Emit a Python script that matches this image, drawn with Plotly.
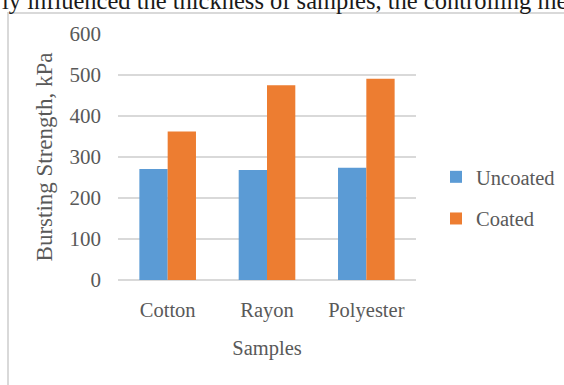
import plotly.graph_objects as go

# Bursting strength of knitted samples, before and after coating
samples = ["Cotton", "Rayon", "Polyester"]
uncoated = [271, 268, 274]
coated = [362, 475, 491]
y_ticks = [0, 100, 200, 300, 400, 500, 600]

W, H = 564, 385
L, R, T, B = 118, 148, 34, 105
plot_w = W - L - R
plot_h = H - T - B


def px_x(p):
    return (p - L) / plot_w


def px_y(p):
    return (H - B - p) / plot_h


SERIF = "Liberation Serif, Times New Roman, serif"
GREY_TXT = "#595959"
GRID = "#D9D9D9"

fig = go.Figure()
fig.add_trace(go.Bar(name="Uncoated", x=samples, y=uncoated,
                     marker=dict(color="#5B9BD5", line=dict(width=0)),
                     legendgroup="a"))
fig.add_trace(go.Bar(name="Coated", x=samples, y=coated,
                     marker=dict(color="#ED7D31", line=dict(width=0)),
                     legendgroup="b"))

fig.update_layout(
    width=W, height=H,
    margin=dict(l=L, r=R, t=T, b=B, pad=0, autoexpand=False),
    paper_bgcolor="white", plot_bgcolor="white",
    barmode="group", bargap=0.43, bargroupgap=0,
    font=dict(family=SERIF, color=GREY_TXT, size=20),
    showlegend=True,
    legend=dict(x=px_x(436), y=px_y(157), xanchor="left", yanchor="top",
                font=dict(family=SERIF, size=20.5, color=GREY_TXT),
                itemwidth=30, tracegroupgap=12, bgcolor="rgba(0,0,0,0)"),
    xaxis=dict(showgrid=False, showline=False, zeroline=False,
               ticks="", ticklabelstandoff=15,
               tickfont=dict(family=SERIF, size=20.5, color=GREY_TXT),
               title=dict(text="Samples", standoff=20,
                          font=dict(family=SERIF, size=20.5, color=GREY_TXT))),
    yaxis=dict(range=[0, 600], tickvals=y_ticks,
               showgrid=True, gridcolor=GRID, gridwidth=2,
               zeroline=True, zerolinecolor=GRID, zerolinewidth=2,
               showline=False, ticks="", ticklabelstandoff=16,
               tickfont=dict(family=SERIF, size=21, color=GREY_TXT),
               title=dict(text="Bursting Strength, kPa", standoff=10,
                          font=dict(family=SERIF, size=23, color=GREY_TXT))),
)

# frame around the chart
fig.add_shape(type="rect", xref="paper", yref="paper",
              x0=px_x(8), x1=px_x(580), y0=px_y(400), y1=px_y(13),
              line=dict(color=GRID, width=2), fillcolor="rgba(0,0,0,0)",
              layer="above")

# running text of the page above the chart
fig.add_annotation(text="ly influenced the thickness of samples, the controlling me",
                   xref="paper", yref="paper", x=px_x(0), y=px_y(0),
                   xanchor="left", yanchor="middle", showarrow=False,
                   font=dict(family=SERIF, size=24.5, color="#1a1a1a"))

fig.write_html("out.html")
